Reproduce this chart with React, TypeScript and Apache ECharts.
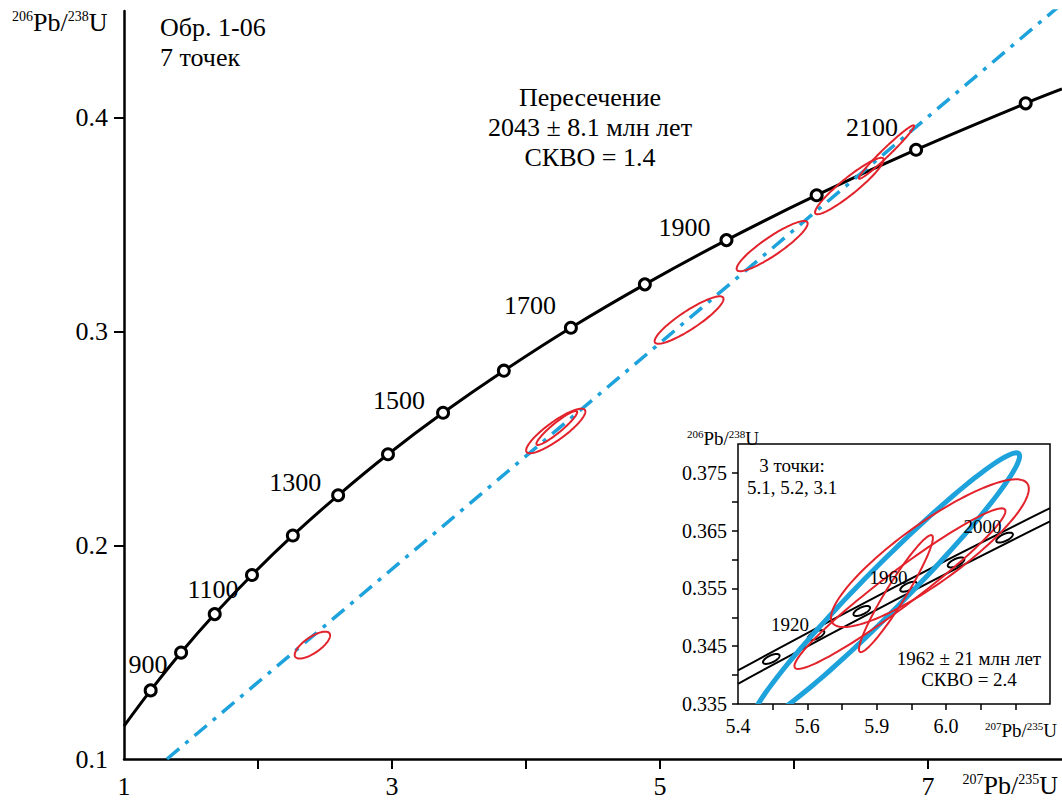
import React, { useEffect, useRef } from 'react';
import * as echarts from 'echarts';

// ---------- main diagram data ----------
const concordiaAges = [800, 900, 1000, 1100, 1200, 1300, 1400, 1500, 1600, 1700, 1800, 1900, 2000, 2100, 2200];
const concordiaX = [1.199, 1.426, 1.677, 1.955, 2.260, 2.598, 2.970, 3.381, 3.835, 4.335, 4.887, 5.496, 6.169, 6.911, 7.729];
const concordiaY = [0.1321, 0.1498, 0.1678, 0.1861, 0.2046, 0.2234, 0.2426, 0.2620, 0.2817, 0.3018, 0.3221, 0.3428, 0.3638, 0.3851, 0.4068];
const concordiaStart = [1.0, 0.1154];
const concordiaEnd = [8.0, 0.4135];
const labeledAges = [900, 1100, 1300, 1500, 1700, 1900, 2100];
const discordiaLine = [[1.321, 0.1], [8.0, 0.4534]];
// error ellipses: [centre x, centre y, half-width x, half-height y, correlation]
const mainEllipses = [
  [2.406, 0.1533, 0.132, 0.0063, 0.72],
  [4.222, 0.2535, 0.221, 0.01044, 0.87],
  [4.230, 0.2549, 0.152, 0.00795, 0.93],
  [5.217, 0.3054, 0.257, 0.0111, 0.89],
  [5.837, 0.3400, 0.265, 0.01175, 0.90],
  [6.413, 0.3681, 0.256, 0.0132, 0.93],
  [6.690, 0.3840, 0.206, 0.0125, 0.978],
];
const mainXLabelValues = [1, 3, 5, 7];
const mainXTickValues = [2, 3, 4, 5, 6, 7];
const mainYLabelValues = [0.1, 0.2, 0.3, 0.4];
const mainYMajorTicks = [0.2, 0.3, 0.4];
const mainYMinorTicks = [0.15, 0.25, 0.35];

// ---------- inset data ----------
const insetXLabelValues = [5.4, 5.6, 5.8, 6.0];
const insetXLabelTexts = ['5.4', '5.6', '5.9', '6.0'];
const insetXTickValues = [5.5, 5.6, 5.7, 5.8, 5.9, 6.0, 6.1, 6.2];
const insetYLabelValues = [0.335, 0.345, 0.355, 0.365, 0.375];
const insetYTickValues = [0.335, 0.34, 0.345, 0.35, 0.355, 0.36, 0.365, 0.37, 0.375];
const insetMarkerAges = [1900, 1920, 1940, 1960, 1980, 2000];
const insetMarkerX = [5.496, 5.625, 5.757, 5.892, 6.029, 6.169];
const insetMarkerY = [0.3428, 0.3469, 0.3511, 0.3553, 0.3595, 0.3638];
const insetLabeledAges = [1920, 1960, 2000];
const insetMarkerSize = [0.0239, 0.00086, 0.64];
const bandUpper = [[5.4, 0.3408], [5.85, 0.3552], [6.3, 0.3689]];
const bandLower = [[5.4, 0.3385], [5.85, 0.3529], [6.3, 0.3666]];
const insetBlueEllipse = [[5.825, 0.3550, 0.3873, 0.02347, 0.975]];
const insetRedEllipses = [
  [5.9536, 0.3611, 0.2853, 0.01279, 0.871],
  [5.8671, 0.35497, 0.3043, 0.0139, 0.964],
  [5.8556, 0.3541, 0.1066, 0.01013, 0.95],
];

const FONT = '"Liberation Serif", "Times New Roman", serif';
const RED = '#e3232c';
const BLUE = '#1ea2dc';

function ellipseRenderer(style: any) {
  return (params: any, api: any) => {
    const cx = api.value(0), cy = api.value(1), sx = api.value(2), sy = api.value(3), r = api.value(4);
    const k = Math.sqrt(Math.max(0, 1 - r * r));
    const pts: number[][] = [];
    const n = 120;
    for (let i = 0; i < n; i++) {
      const t = (i / n) * Math.PI * 2;
      const x = cx + sx * Math.cos(t);
      const y = cy + sy * (r * Math.cos(t) + k * Math.sin(t));
      pts.push(api.coord([x, y]));
    }
    return { type: 'polygon', shape: { points: pts }, style: { ...style } };
  };
}

const ratioTitle = (a: string, b: string, base: number, sup: number) => ({
  text: `{s|${a}}{b|Pb/}{s|${b}}{b|U}`,
  rich: {
    s: { fontSize: sup, fontFamily: FONT, fill: '#000', verticalAlign: 'top', lineHeight: base },
    b: { fontSize: base, fontFamily: FONT, fill: '#000', lineHeight: base },
  },
});

const labelOffsets: Record<number, number[]> = {
  900: [-33, 12], 1100: [-39, 15], 1300: [-43, -13], 1500: [-44, -12],
  1700: [-41, -22], 1900: [-42, -13], 2100: [-44, -22],
};
const insetLabelOffsets: Record<number, number[]> = {
  1920: [-26, -11], 1960: [-20, -9], 2000: [-22, -11],
};

export default function App() {
  const ref = useRef<HTMLDivElement>(null);
  useEffect(() => {
    if (!ref.current) return;
    const chart = echarts.init(ref.current, undefined, { renderer: 'svg' });

    const concordiaLine = [concordiaStart, ...concordiaX.map((x, i) => [x, concordiaY[i]]), concordiaEnd];
    const markerData = concordiaAges.map((age, i) => {
      const item: any = { value: [concordiaX[i], concordiaY[i]] };
      if (labeledAges.includes(age)) {
        item.label = { show: true, formatter: String(age), offset: labelOffsets[age] };
      }
      return item;
    });
    const insetMarkers = insetMarkerAges.map((age, i) => [insetMarkerX[i], insetMarkerY[i], ...insetMarkerSize]);
    const insetLabels = insetMarkerAges
      .map((age, i) => ({ age, i }))
      .filter((d) => insetLabeledAges.includes(d.age))
      .map((d) => ({
        value: [insetMarkerX[d.i], insetMarkerY[d.i]],
        label: { show: true, formatter: String(d.age), offset: insetLabelOffsets[d.age] },
      }));

    const axisLineStyle = { color: '#000', width: 2.5 };
    const option: any = {
      animation: false,
      backgroundColor: '#fff',
      grid: [
        { left: 124, right: 0, top: 11, bottom: 46, show: false },
        { left: 738, right: 12, top: 444, bottom: 101, show: true, backgroundColor: '#fff', borderColor: '#000', borderWidth: 1.5, z: 5 },
      ],
      xAxis: [
        {
          type: 'value', gridIndex: 0, min: 1, max: 8, interval: 1,
          axisLine: { show: true, lineStyle: axisLineStyle },
          axisTick: { show: true, length: 10, lineStyle: { color: '#000', width: 2 }, customValues: mainXTickValues },
          axisLabel: { customValues: mainXLabelValues, fontSize: 26, fontFamily: FONT, color: '#000', margin: 14 },
          splitLine: { show: false },
        },
        {
          type: 'value', gridIndex: 1, min: 5.4, max: 6.3, interval: 0.1, z: 6,
          axisLine: { show: false },
          axisTick: { show: true, length: 6, lineStyle: { color: '#000', width: 1.5 }, customValues: insetXTickValues },
          axisLabel: {
            customValues: insetXLabelValues, fontSize: 20, fontFamily: FONT, color: '#000', margin: 12,
            formatter: (v: number) => {
              const idx = insetXLabelValues.findIndex((x) => Math.abs(x - v) < 1e-6);
              return idx >= 0 ? insetXLabelTexts[idx] : '';
            },
          },
          splitLine: { show: false },
        },
      ],
      yAxis: [
        {
          type: 'value', gridIndex: 0, min: 0.1, max: 0.45, interval: 0.05,
          axisLine: { show: true, lineStyle: axisLineStyle },
          axisTick: { show: true, length: 10, lineStyle: { color: '#000', width: 2 }, customValues: mainYMajorTicks },
          axisLabel: {
            customValues: mainYLabelValues, fontSize: 26, fontFamily: FONT, color: '#000', margin: 16,
            formatter: (v: number) => v.toFixed(1),
          },
          splitLine: { show: false },
        },
        {
          type: 'value', gridIndex: 0, min: 0.1, max: 0.45, interval: 0.05,
          axisLine: { show: false },
          axisTick: { show: true, length: 6, lineStyle: { color: '#000', width: 2 }, customValues: mainYMinorTicks },
          axisLabel: { show: false },
          splitLine: { show: false },
        },
        {
          type: 'value', gridIndex: 1, min: 0.335, max: 0.38, interval: 0.005, z: 6,
          axisLine: { show: false },
          axisTick: { show: true, length: 6, lineStyle: { color: '#000', width: 1.5 }, customValues: insetYTickValues },
          axisLabel: {
            customValues: insetYLabelValues, fontSize: 20, fontFamily: FONT, color: '#000', margin: 11,
            formatter: (v: number) => v.toFixed(3),
          },
          splitLine: { show: false },
        },
      ],
      series: [
        {
          type: 'line', xAxisIndex: 0, yAxisIndex: 0, data: concordiaLine, smooth: 0.4,
          showSymbol: false, lineStyle: { color: '#000', width: 3 }, z: 2, silent: true,
        },
        {
          type: 'line', xAxisIndex: 0, yAxisIndex: 0, data: discordiaLine, showSymbol: false,
          lineStyle: { color: BLUE, width: 3.5, type: [16, 8, 4, 8] }, z: 2, silent: true,
        },
        {
          type: 'custom', xAxisIndex: 0, yAxisIndex: 0, data: mainEllipses, encode: { x: 0, y: 1 },
          renderItem: ellipseRenderer({ fill: 'none', stroke: RED, lineWidth: 2 }), z: 3, silent: true,
        },
        {
          type: 'scatter', xAxisIndex: 0, yAxisIndex: 0, data: markerData, symbol: 'circle', symbolSize: 11,
          itemStyle: { color: '#fff', borderColor: '#000', borderWidth: 3, opacity: 1 },
          label: { show: false, position: 'inside', fontSize: 26, fontFamily: FONT, color: '#000' },
          z: 4, silent: true,
        },
        // inset
        {
          type: 'line', xAxisIndex: 1, yAxisIndex: 2, data: bandUpper, smooth: true, showSymbol: false,
          lineStyle: { color: '#000', width: 2 }, z: 7, silent: true,
        },
        {
          type: 'line', xAxisIndex: 1, yAxisIndex: 2, data: bandLower, smooth: true, showSymbol: false,
          lineStyle: { color: '#000', width: 2 }, z: 7, silent: true,
        },
        {
          type: 'custom', xAxisIndex: 1, yAxisIndex: 2, data: insetMarkers, encode: { x: 0, y: 1 },
          renderItem: ellipseRenderer({ fill: '#fff', stroke: '#000', lineWidth: 2 }), z: 8, silent: true,
        },
        {
          type: 'custom', xAxisIndex: 1, yAxisIndex: 2, data: insetBlueEllipse, encode: { x: 0, y: 1 }, clip: true,
          renderItem: ellipseRenderer({ fill: 'none', stroke: BLUE, lineWidth: 5 }), z: 9, silent: true,
        },
        {
          type: 'custom', xAxisIndex: 1, yAxisIndex: 2, data: insetRedEllipses, encode: { x: 0, y: 1 }, clip: true,
          renderItem: ellipseRenderer({ fill: 'none', stroke: RED, lineWidth: 2 }), z: 10, silent: true,
        },
        {
          type: 'scatter', xAxisIndex: 1, yAxisIndex: 2, data: insetLabels, symbol: 'circle', symbolSize: 0.1,
          itemStyle: { color: '#000', opacity: 1 },
          label: {
            show: true, position: 'inside', fontSize: 19, fontFamily: FONT, color: '#000',
            textBorderWidth: 0, textBorderColor: 'transparent', opacity: 1,
          },
          z: 11, silent: true,
        },
      ],
      graphic: [
        { type: 'text', x: 12, y: 22, z: 20, style: { ...ratioTitle('206', '238', 26, 14), align: 'left', verticalAlign: 'middle' } },
        { type: 'text', x: 160, y: 27, z: 20, style: { text: 'Обр. 1-06', fontSize: 26, fontFamily: FONT, fill: '#000', align: 'left', verticalAlign: 'middle' } },
        { type: 'text', x: 160, y: 57, z: 20, style: { text: '7 точек', fontSize: 26, fontFamily: FONT, fill: '#000', align: 'left', verticalAlign: 'middle' } },
        { type: 'text', x: 590, y: 97, z: 20, style: { text: 'Пересечение', fontSize: 26, fontFamily: FONT, fill: '#000', align: 'center', verticalAlign: 'middle' } },
        { type: 'text', x: 590, y: 127, z: 20, style: { text: '2043 ± 8.1 млн лет', fontSize: 26, fontFamily: FONT, fill: '#000', align: 'center', verticalAlign: 'middle' } },
        { type: 'text', x: 590, y: 157, z: 20, style: { text: 'СКВО = 1.4', fontSize: 26, fontFamily: FONT, fill: '#000', align: 'center', verticalAlign: 'middle' } },
        { type: 'text', x: 1058, y: 785, z: 20, style: { ...ratioTitle('207', '235', 26, 14), align: 'right', verticalAlign: 'middle' } },
        // inset texts
        { type: 'text', x: 687, y: 438, z: 20, style: { ...ratioTitle('206', '238', 19, 11), align: 'left', verticalAlign: 'middle' } },
        { type: 'text', x: 1057, y: 730, z: 20, style: { ...ratioTitle('207', '235', 19, 11), align: 'right', verticalAlign: 'middle' } },
        { type: 'text', x: 792, y: 465, z: 20, style: { text: '3 точки:', fontSize: 19, fontFamily: FONT, fill: '#000', align: 'center', verticalAlign: 'middle' } },
        { type: 'text', x: 792, y: 487, z: 20, style: { text: '5.1, 5.2, 3.1', fontSize: 19, fontFamily: FONT, fill: '#000', align: 'center', verticalAlign: 'middle' } },
        { type: 'text', x: 969, y: 658, z: 20, style: { text: '1962 ± 21 млн лет', fontSize: 19, fontFamily: FONT, fill: '#000', align: 'center', verticalAlign: 'middle' } },
        { type: 'text', x: 969, y: 679, z: 20, style: { text: 'СКВО = 2.4', fontSize: 19, fontFamily: FONT, fill: '#000', align: 'center', verticalAlign: 'middle' } },
      ],
    };
    chart.setOption(option);
    return () => chart.dispose();
  }, []);
  return <div ref={ref} style={{ position: 'absolute', left: 0, top: 0, width: 1062, height: 805, background: '#fff' }} />;
}
